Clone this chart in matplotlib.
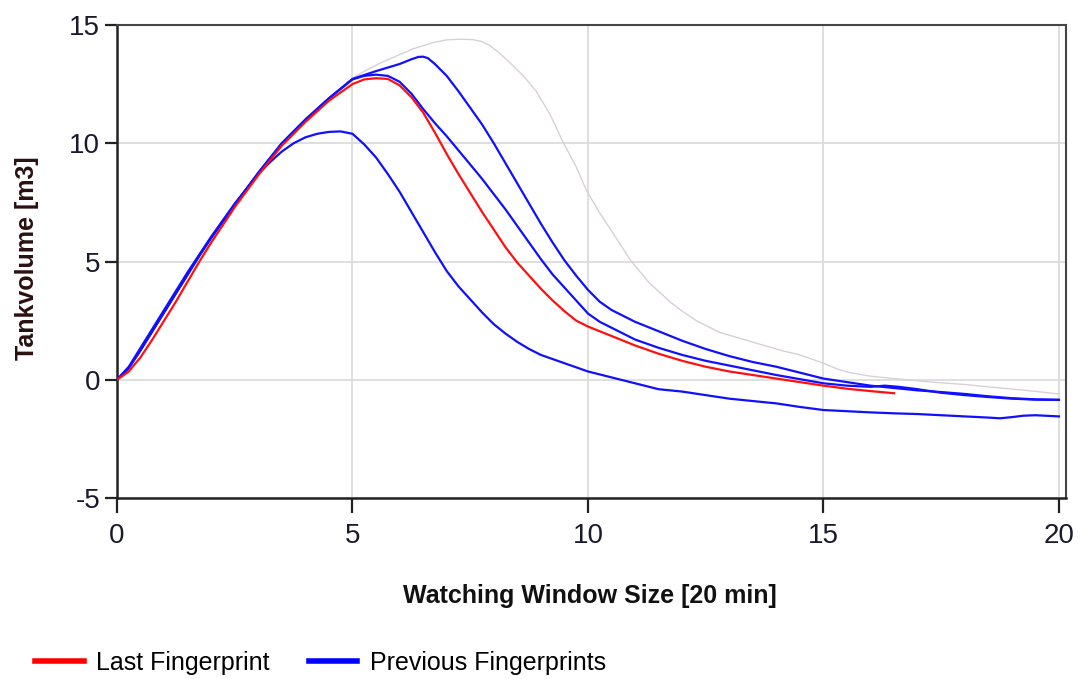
import matplotlib
matplotlib.use("Agg")
import matplotlib.pyplot as plt
from matplotlib.lines import Line2D

plt.rcParams['font.family'] = ['Liberation Sans', 'DejaVu Sans']
plt.rcParams['axes.unicode_minus'] = False

# ---- data ----
rise_x = [0, 0.25, 0.5, 0.75, 1.0, 1.25, 1.5, 1.75, 2.0, 2.5, 3.0, 3.5, 4.0, 4.5]
rise_y = [0, 0.5, 1.25, 2.05, 2.85, 3.65, 4.45, 5.25, 6.0, 7.4, 8.75, 10.0, 11.0, 11.9]

red_x = [0, 0.25, 0.5, 0.75, 1.0, 1.25, 1.5, 1.75, 2.0, 2.5, 3.0, 3.5, 4.0, 4.5, 5.0,
         5.25, 5.5, 5.75, 6.0, 6.25, 6.5, 6.75, 7.0, 7.25, 7.5, 7.75, 8.0, 8.25, 8.5,
         8.75, 9.0, 9.25, 9.5, 9.75, 10.0, 10.25, 10.5, 11.0, 11.5, 12.0, 12.5, 13.0,
         13.5, 14.0, 14.5, 15.0, 15.5, 16.0, 16.5]
red_y = [0, 0.35, 0.95, 1.7, 2.5, 3.3, 4.15, 5.0, 5.8, 7.3, 8.65, 9.9, 10.9, 11.8, 12.5,
         12.7, 12.75, 12.72, 12.45, 11.95, 11.3, 10.45, 9.55, 8.7, 7.9, 7.1, 6.35, 5.6, 4.95,
         4.4, 3.85, 3.35, 2.9, 2.5, 2.25, 2.05, 1.85, 1.45, 1.1, 0.8, 0.55, 0.35,
         0.2, 0.05, -0.1, -0.25, -0.38, -0.48, -0.57]

blueB_x = rise_x + [5.0, 5.25, 5.5, 5.75, 6.0, 6.25, 6.5, 6.75, 7.0, 7.25, 7.5, 7.75, 8.0,
                    8.25, 8.5, 8.75, 9.0, 9.25, 9.5, 9.75, 10.0, 10.25, 10.5, 11.0, 11.5,
                    12.0, 12.5, 13.0, 14.0, 15.0, 15.5, 16.0, 16.3, 16.6, 17.0, 17.5, 18.0,
                    18.5, 19.0, 19.5, 20.0]
blueB_y = rise_y + [12.7, 12.85, 12.9, 12.85, 12.6, 12.1, 11.45, 10.85, 10.3, 9.7, 9.1, 8.5,
                    7.85, 7.2, 6.5, 5.8, 5.1, 4.45, 3.9, 3.35, 2.8, 2.45, 2.2, 1.7, 1.35,
                    1.05, 0.8, 0.6, 0.2, -0.15, -0.25, -0.3, -0.25, -0.3, -0.4, -0.55, -0.65,
                    -0.73, -0.8, -0.84, -0.85]

blueC_x = rise_x + [5.0, 5.5, 6.0, 6.25, 6.4, 6.5, 6.6, 6.75, 7.0, 7.25, 7.5, 7.75, 8.0,
                    8.25, 8.5, 8.75, 9.0, 9.25, 9.5, 9.75, 10.0, 10.25, 10.5, 11.0, 11.5,
                    12.0, 12.5, 13.0, 13.5, 14.0, 14.5, 15.0, 15.5, 16.0, 16.5, 17.0, 17.5,
                    18.0, 18.5, 19.0, 19.5, 20.0]
blueC_y = rise_y + [12.72, 13.05, 13.35, 13.55, 13.65, 13.66, 13.6, 13.35, 12.85, 12.2, 11.5,
                    10.8, 10.0, 9.15, 8.3, 7.45, 6.6, 5.8, 5.05, 4.4, 3.8, 3.3, 2.95, 2.45,
                    2.05, 1.65, 1.3, 1.0, 0.75, 0.55, 0.3, 0.05, -0.1, -0.25, -0.35, -0.45,
                    -0.52, -0.6, -0.7, -0.78, -0.83, -0.85]

blueA_x = [0, 0.25, 0.5, 0.75, 1.0, 1.25, 1.5, 1.75, 2.0, 2.5, 3.0, 3.25, 3.5, 3.75, 4.0,
           4.25, 4.5, 4.75, 5.0, 5.25, 5.5, 5.75, 6.0, 6.25, 6.5, 6.75, 7.0, 7.25, 7.5,
           7.75, 8.0, 8.25, 8.5, 8.75, 9.0, 9.5, 10.0, 10.5, 11.0, 11.5, 12.0, 12.5, 13.0,
           13.5, 14.0, 14.5, 15.0, 15.5, 16.0, 16.5, 17.0, 17.5, 18.0, 18.5, 18.75, 19.0,
           19.25, 19.5, 20.0]
blueA_y = [0, 0.55, 1.35, 2.15, 2.95, 3.75, 4.55, 5.3, 6.05, 7.45, 8.7, 9.2, 9.65, 10.0,
           10.25, 10.4, 10.48, 10.5, 10.4, 9.95, 9.4, 8.7, 7.95, 7.1, 6.25, 5.4, 4.6, 3.95,
           3.4, 2.85, 2.35, 1.95, 1.6, 1.3, 1.05, 0.7, 0.35, 0.1, -0.15, -0.4, -0.5, -0.65,
           -0.8, -0.9, -1.0, -1.15, -1.28, -1.33, -1.38, -1.42, -1.45, -1.5, -1.55, -1.6,
           -1.63, -1.58, -1.52, -1.5, -1.55]

gray_x = rise_x + [5.0, 5.3, 5.6, 6.0, 6.3, 6.7, 7.0, 7.3, 7.56, 7.75, 7.9, 8.1, 8.4, 8.65,
                   8.9, 9.2, 9.47, 9.75, 9.97, 10.25, 10.5, 10.9, 11.3, 11.74, 12.0, 12.3,
                   12.8, 13.4, 14.08, 14.5, 15.0, 15.3, 15.56, 16.0, 16.5, 17.3, 18.0, 18.5,
                   19.3, 20.0]
gray_y = rise_y + [12.75, 13.1, 13.4, 13.75, 14.0, 14.25, 14.37, 14.4, 14.38, 14.3, 14.15,
                   13.85, 13.3, 12.8, 12.2, 11.2, 10.05, 9.0, 8.0, 7.05, 6.3, 5.06, 4.1, 3.3,
                   2.9, 2.5, 2.0, 1.65, 1.25, 1.05, 0.7, 0.45, 0.3, 0.15, 0.05, -0.1, -0.2,
                   -0.3, -0.45, -0.6]

x_ticks = [0, 5, 10, 15, 20]
y_ticks = [-5, 0, 5, 10, 15]
x_label = "Watching Window Size [20 min]"
y_label = "Tankvolume [m3]"
legend_labels = ["Last Fingerprint", "Previous Fingerprints"]

# ---- figure ----
W, H = 1084, 679
fig = plt.figure(figsize=(W / 100, H / 100), dpi=100)
ax = fig.add_axes([117 / W, (H - 498) / H, (1066 - 117) / W, (498 - 25) / H])

ax.plot(gray_x, gray_y, color='#d8d0d8', lw=1.0, zorder=2)
for xs, ys in [(blueA_x, blueA_y), (blueB_x, blueB_y), (blueC_x, blueC_y)]:
    ax.plot(xs, ys, color='#1010ff', lw=1.6, zorder=3)
ax.plot(red_x, red_y, color='#ff1010', lw=1.6, zorder=4)

ax.set_xlim(0, 20.15)
ax.set_ylim(-5, 15)
ax.set_xticks(x_ticks)
ax.set_yticks(y_ticks)
ax.grid(True, color='#dcdcdc', lw=1.3, zorder=0)
ax.set_axisbelow(True)

for s in ['left', 'bottom']:
    ax.spines[s].set_linewidth(1.8)
    ax.spines[s].set_color('#222222')
for s in ['top', 'right']:
    ax.spines[s].set_linewidth(1.5)
    ax.spines[s].set_color('#444444')

ax.tick_params(axis='both', direction='out', width=1.6, color='#222222',
               labelsize=20, labelcolor='#1a1a2a')
ax.tick_params(axis='y', length=9, pad=3)
ax.tick_params(axis='x', length=11, pad=7)
ax.tick_params(top=False, right=False)

ax.set_xlabel(x_label, fontsize=18, fontweight='bold', color='#111111')
ax.set_ylabel(y_label, fontsize=18, fontweight='bold', color='#2a1010')
ax.xaxis.set_label_coords(0.4985, -0.182)
ax.yaxis.set_label_coords(-0.082, 0.507)

handles = [Line2D([], [], color='#ff0000', lw=4),
           Line2D([], [], color='#0000ff', lw=4)]
fig.legend(handles, legend_labels, loc='center left',
           bbox_to_anchor=(35 / W, 16 / H), ncol=2, frameon=False,
           fontsize=18, handlelength=1.95, handletextpad=0.5, columnspacing=1.55,
           borderpad=0, borderaxespad=0)

fig.savefig('out.png', dpi=100)
